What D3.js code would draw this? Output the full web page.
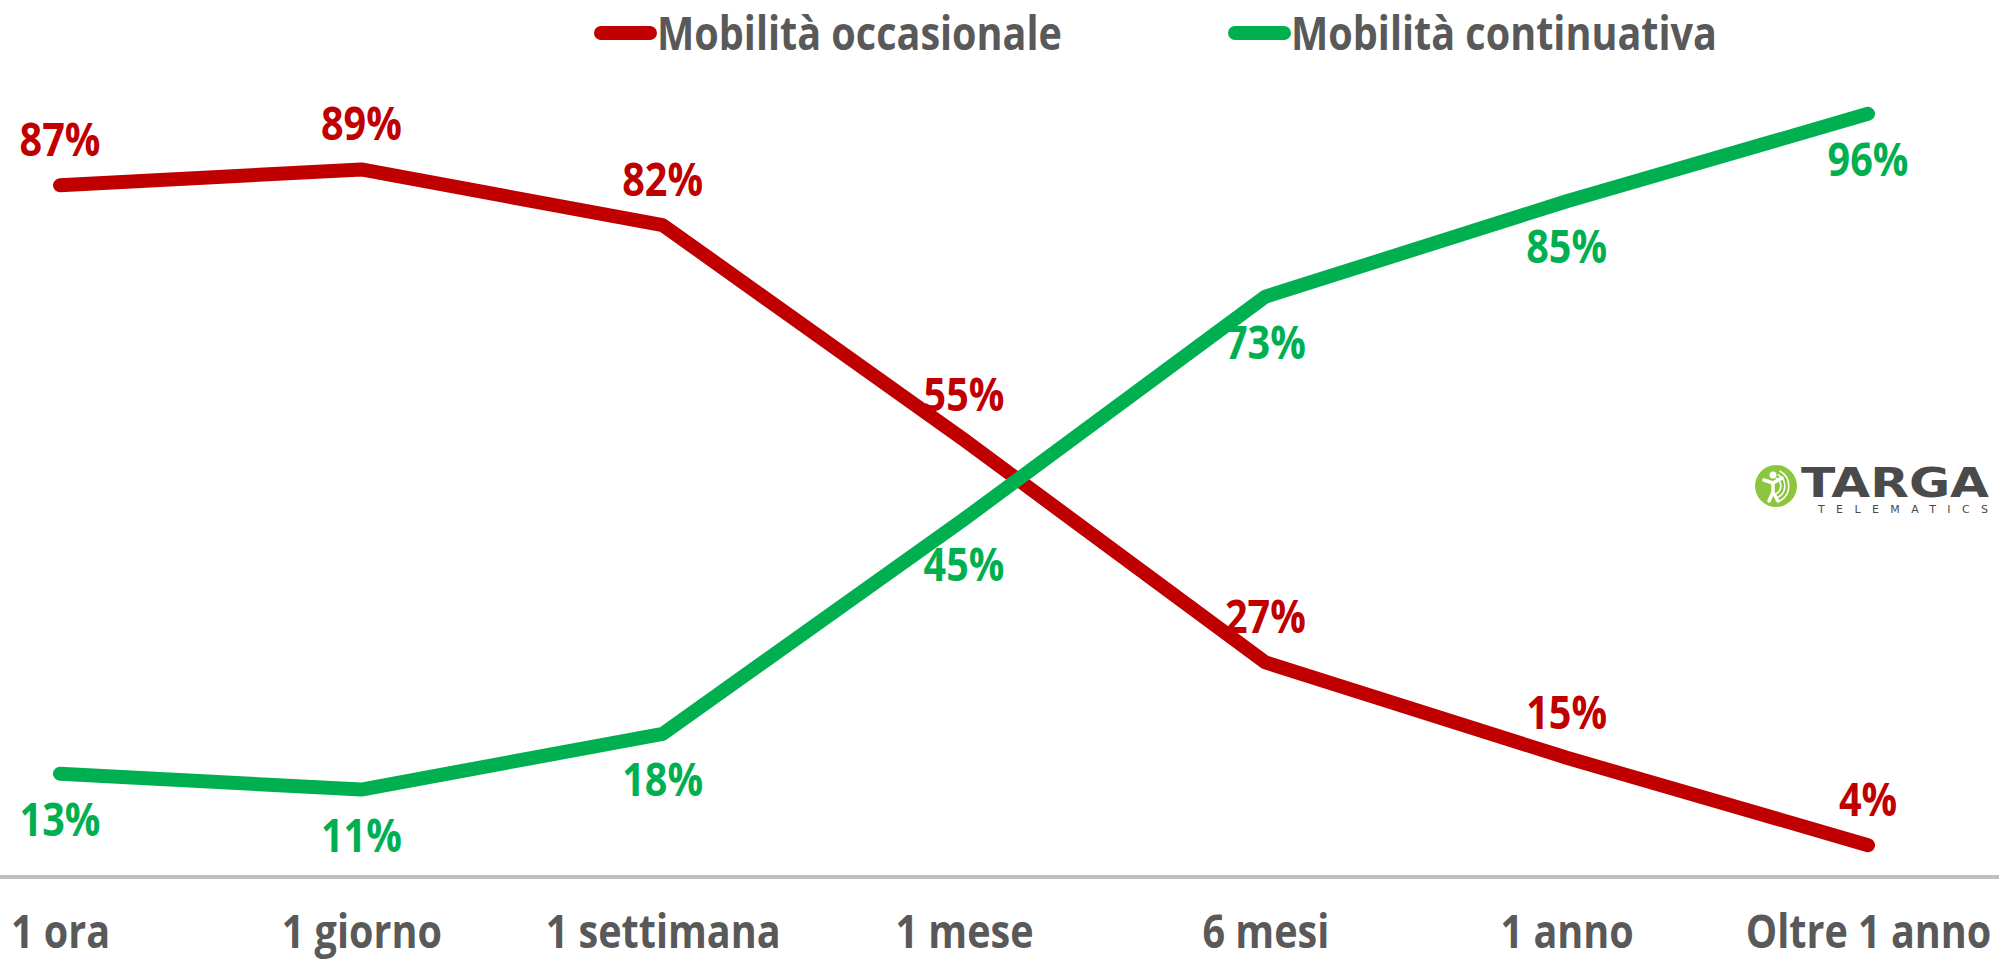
<!DOCTYPE html>
<html>
<head>
<meta charset="utf-8">
<script src="https://cdn.jsdelivr.net/npm/d3@7"></script>
<style>
  html, body { margin: 0; padding: 0; background: #fff; }
  svg text { font-family: "Open Sans", sans-serif; font-weight: bold; }
</style>
</head>
<body>
<div id="chart"></div>
<script>
const categories = ['1 ora', '1 giorno', '1 settimana', '1 mese', '6 mesi', '1 anno', 'Oltre 1 anno'];
const occasionale = [87, 89, 82, 55, 27, 15, 4];
const continuativa = [13, 11, 18, 45, 73, 85, 96];
const seriesNames = ['Mobilità occasionale', 'Mobilità continuativa'];

const width = 1999, height = 963;
const red = '#c00000', green = '#00b050', grey = '#595959';
// no Calibri here, so squeeze Open Sans a bit to get a similar width
const squeeze = 'scale(0.86,1)';
const fontSize = '46px';

const svg = d3.select('#chart').append('svg')
  .attr('width', width).attr('height', height);

const x = d3.scalePoint().domain(categories).range([60, 1868]);
const y = d3.scaleLinear().domain([0, 100]).range([877, 82]);

// axis line at 0
svg.append('line')
  .attr('x1', 0).attr('x2', width)
  .attr('y1', y(0)).attr('y2', y(0))
  .attr('stroke', '#bfbfbf').attr('stroke-width', 4);

// category labels
const xAxis = svg.append('g').attr('transform', `translate(0,${y(0)})`)
  .call(d3.axisBottom(x).tickSize(0).tickPadding(0));
xAxis.select('.domain').remove();
xAxis.selectAll('text')
  .attr('dy', null).attr('y', 71)
  .attr('transform', squeeze)
  .attr('fill', grey)
  .style('font-size', fontSize);

const series = [
  { name: seriesNames[0], values: occasionale, color: red, dy: -29 },
  { name: seriesNames[1], values: continuativa, color: green, dy: 62 }
];

const line = d3.line().x((d, i) => x(categories[i])).y(d => y(d));

series.forEach(s => {
  svg.append('path')
    .datum(s.values)
    .attr('d', line)
    .attr('fill', 'none')
    .attr('stroke', s.color)
    .attr('stroke-width', 14)
    .attr('stroke-linecap', 'round')
    .attr('stroke-linejoin', 'round');
});

// data labels
series.forEach(s => {
  svg.append('g').selectAll('text')
    .data(s.values)
    .join('text')
    .attr('transform', (d, i) => `translate(${x(categories[i])},${y(d) + s.dy}) ${squeeze}`)
    .attr('text-anchor', 'middle')
    .attr('fill', s.color)
    .style('font-size', fontSize)
    .text(d => d + '%');
});

// legend
const legendPos = [594, 1228];
series.forEach((s, i) => {
  const g = svg.append('g').attr('transform', `translate(${legendPos[i]},33)`);
  g.append('line')
    .attr('x1', 7).attr('x2', 56)
    .attr('stroke', s.color).attr('stroke-width', 14)
    .attr('stroke-linecap', 'round');
  g.append('text')
    .attr('transform', `translate(63,17) ${squeeze}`)
    .attr('fill', grey)
    .style('font-size', fontSize)
    .text(s.name);
});

// logo
const logo = svg.append('g').attr('transform', 'translate(1776,486)');
logo.append('circle').attr('r', 21).attr('fill', '#8cc63e');
logo.append('circle').attr('cx', -3).attr('cy', -11).attr('r', 3.5).attr('fill', '#fff');
logo.append('path')
  .attr('d', 'M-12,-6 L-3,-3 L6,-8 M-3,-3 L-3,6 L-7,15 M-3,6 L2,15')
  .attr('fill', 'none').attr('stroke', '#fff').attr('stroke-width', 3.5)
  .attr('stroke-linecap', 'round').attr('stroke-linejoin', 'round');
[8, 12, 16].forEach(r => {
  logo.append('path')
    .attr('d', d3.arc()({ innerRadius: r, outerRadius: r + 1.6, startAngle: Math.PI * 0.15, endAngle: Math.PI * 0.85 }))
    .attr('transform', 'translate(-4,0)')
    .attr('fill', '#fff');
});
logo.append('text')
  .attr('x', 25).attr('y', 11)
  .attr('fill', '#4a4a4a')
  .style('font-family', '"DejaVu Sans", sans-serif')
  .style('font-size', '40px')
  .attr('textLength', 188)
  .attr('lengthAdjust', 'spacingAndGlyphs')
  .text('TARGA');
logo.append('text')
  .attr('x', 42).attr('y', 27)
  .attr('fill', '#4a4a4a')
  .style('font-family', '"DejaVu Sans", sans-serif')
  .style('font-weight', 'normal')
  .style('font-size', '11px')
  .attr('textLength', 170)
  .text('TELEMATICS');
</script>
</body>
</html>
